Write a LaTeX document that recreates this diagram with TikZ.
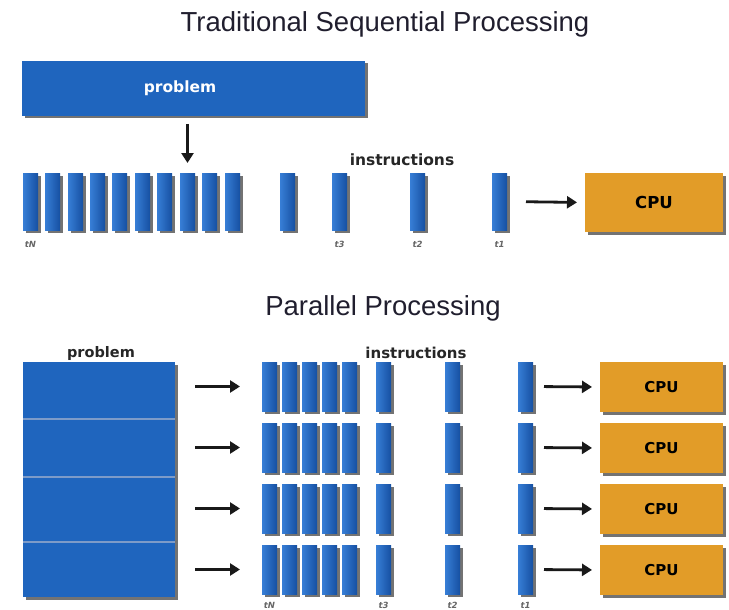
\documentclass[tikz,border=0pt]{standalone}
\usepackage{fontspec}
\setmainfont{Liberation Sans}
\newfontfamily\lblfont{DejaVu Sans}
\usetikzlibrary{arrows.meta,shadows}
\definecolor{pblue}{RGB}{31,101,190}
\definecolor{barL}{RGB}{55,126,214}
\definecolor{barD}{RGB}{22,80,162}
\definecolor{cpuor}{RGB}{226,156,40}
\definecolor{titlec}{RGB}{32,30,46}
\definecolor{sepc}{RGB}{125,155,200}
\tikzset{
  shd/.style={drop shadow={shadow xshift=2.5pt, shadow yshift=-2.5pt, fill=black, opacity=0.55}},
  ibar/.style={minimum width=15pt, inner sep=0pt, outer sep=0pt, draw=none,
    left color=barL, right color=barD, shd},
  cpubox/.style={fill=cpuor, inner sep=0pt, outer sep=0pt, anchor=north west, shd,
    font=\lblfont\bfseries\fontsize{15}{16}\selectfont},
  pbox/.style={fill=pblue, inner sep=0pt, outer sep=0pt, anchor=north west, shd},
  flow/.style={line width=2.8pt, draw=black!90, -{Triangle[length=10pt,width=12pt]}},
  tlabel/.style={font=\lblfont\bfseries\itshape\fontsize{8.5}{9}\selectfont, text=black!60, inner sep=0pt},
  ttl/.style={font=\fontsize{27.5}{30}\selectfont, text=titlec, anchor=base, inner sep=0pt},
  blbl/.style={font=\lblfont\bfseries\fontsize{15}{16}\selectfont, text=black!85, inner sep=0pt},
  sepline/.style={draw=sepc, line width=1.2pt}
}
\begin{document}
\begin{tikzpicture}[x=1pt,y=-1pt]
\useasboundingbox (0,0) rectangle (729,610);
% ---------- top: sequential ----------
\node[ttl] (t1title) at (385,32) {Traditional Sequential Processing};
\node[pbox, minimum width=343pt, minimum height=55pt] (prob) at (22,61) {};
\node[blbl, text=white, font=\lblfont\bfseries\fontsize{15.5}{16}\selectfont] (probtxt) at (180,88) {problem};
\foreach \x [count=\i] in {23,45,68,90,112,135,157,180,202,225,280,332,410,492}
  \node[ibar, minimum height=57pt, anchor=north west] (s\i) at (\x,173) {};
\node[blbl, font=\lblfont\bfseries\fontsize{15.5}{16}\selectfont] (instr1) at (402,160) {instructions};
\node[cpubox, minimum width=138pt, minimum height=59pt, font=\lblfont\bfseries\fontsize{16.5}{17}\selectfont] (cpu0) at (585,173) {CPU};
\draw[flow, shorten <=8pt, shorten >=10pt] (prob.south -| s8.north) -- (s8.north);
\draw[flow, shorten <=19pt, shorten >=8pt] (s14.east) -- (cpu0.west);
\node[tlabel] (ltN) at (s1.south |- 0,244) {tN};
\node[tlabel] (lt3) at (s12.south |- 0,244) {t3};
\node[tlabel] (lt2) at (s13.south |- 0,244) {t2};
\node[tlabel] (lt1) at (s14.south |- 0,244) {t1};
% ---------- bottom: parallel ----------
\node[ttl] (t2title) at (383,315) {Parallel Processing};
\node[blbl, font=\lblfont\bfseries\fontsize{14.5}{15}\selectfont] (probl2) at (101,353) {problem};
\node[blbl] (instr2) at (416,353) {instructions};
\node[pbox, minimum width=152pt, minimum height=57pt] (p1) at (23,362) {};
\node[pbox, minimum width=152pt, minimum height=58pt] (p2) at (23,419) {};
\node[pbox, minimum width=152pt, minimum height=65pt] (p3) at (23,477) {};
\node[pbox, minimum width=152pt, minimum height=55pt] (p4) at (23,542) {};
\draw[sepline] (p1.south west) -- (p1.south east);
\draw[sepline] (p2.south west) -- (p2.south east);
\draw[sepline] (p3.south west) -- (p3.south east);
\foreach \r/\yt in {1/362,2/423,3/484,4/545} {
  \foreach \x [count=\i] in {262,282,302,322,342,376,445,518}
    \node[ibar, minimum height=49pt, anchor=north west] (b\r-\i) at (\x,\yt) {};
  \node[cpubox, minimum width=123pt, minimum height=50pt] (c\r) at (600,\yt) {CPU};
  \draw[flow, shorten <=11pt, shorten >=8pt] (b\r-8.east) -- (c\r.west);
  \draw[flow, shorten <=20pt, shorten >=22pt] (p\r.east |- b\r-1.west) -- (b\r-1.west);
}
\node[tlabel] (mtN) at (b4-1.south |- 0,605) {tN};
\node[tlabel] (mt3) at (b4-6.south |- 0,605) {t3};
\node[tlabel] (mt2) at (b4-7.south |- 0,605) {t2};
\node[tlabel] (mt1) at (b4-8.south |- 0,605) {t1};
\end{tikzpicture}
\end{document}
